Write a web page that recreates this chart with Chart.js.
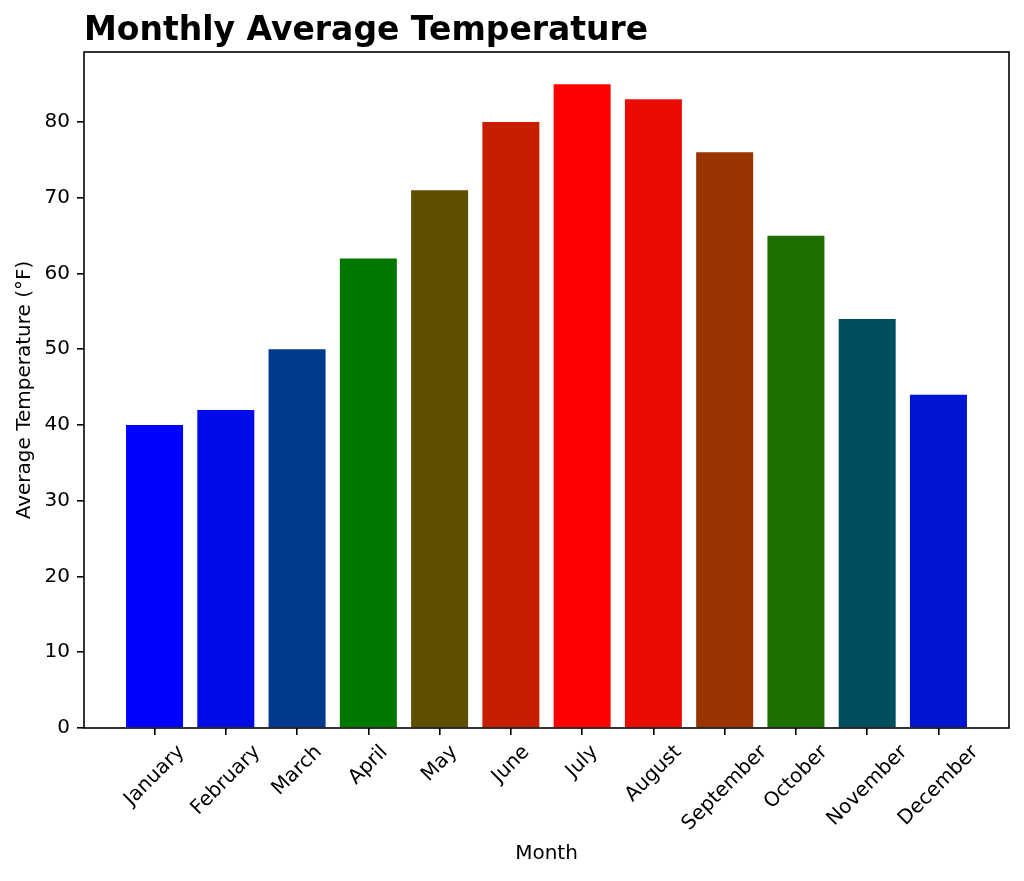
<!DOCTYPE html>
<html>
<head>
<meta charset="utf-8">
<script src="https://cdn.jsdelivr.net/npm/chart.js@4/dist/chart.umd.min.js"></script>
<style>
html,body{margin:0;padding:0;background:#fff;}
canvas{display:block;}
</style>
</head>
<body>
<canvas id="c" width="1024" height="881"></canvas>
<script>
const months = ['January','February','March','April','May','June','July','August','September','October','November','December'];
const temps = [40, 42, 50, 62, 71, 80, 85, 83, 76, 65, 54, 44];
const barColors = ['#0000FF','#000BE8','#003A8F','#007800','#5E4F00','#C81E00','#FF0000','#EA0C00','#993300','#1E6F00','#004F5F','#0015D0'];
const yTicks = [0, 10, 20, 30, 40, 50, 60, 70, 80];
const titleText = 'Monthly Average Temperature';
const xTitleText = 'Month';
const yTitleText = 'Average Temperature (°F)';

// matplotlib-like margins
const BAR_W = 0.8;
const xSpan = (months.length - 1) + BAR_W;
const X_MIN = -BAR_W / 2 - 0.05 * xSpan;
const X_MAX = months.length - 1 + BAR_W / 2 + 0.05 * xSpan;
const Y_MAX = Math.max(...temps) * 1.05;

Chart.defaults.font.family = "'DejaVu Sans', sans-serif";
Chart.defaults.color = '#000';

const framePlugin = {
  id: 'frame',
  afterDatasetsDraw(chart) {
    const {ctx, chartArea: a} = chart;
    ctx.save();
    ctx.strokeStyle = '#000';
    ctx.lineWidth = 1.6;
    ctx.strokeRect(a.left, a.top, a.right - a.left, a.bottom - a.top);
    ctx.restore();
  }
};

const xLabelPlugin = {
  id: 'xlabels',
  afterDraw(chart) {
    const sc = chart.scales.x;
    const ctx = chart.ctx;
    const size = 20;
    ctx.save();
    ctx.font = size + "px 'DejaVu Sans'";
    ctx.fillStyle = '#000';
    sc.ticks.forEach(t => {
      const label = months[t.value];
      if (label === undefined) return;
      const w = ctx.measureText(label).width;
      const H = (w + size * 0.983) * Math.SQRT1_2;
      const cx = sc.getPixelForValue(t.value);
      const cy = chart.chartArea.bottom + 14 + H / 2;
      ctx.save();
      ctx.translate(cx, cy);
      ctx.rotate(-Math.PI / 4);
      ctx.textAlign = 'center';
      ctx.textBaseline = 'alphabetic';
      ctx.fillText(label, 0, size * 0.268);
      ctx.restore();
    });
    ctx.restore();
  }
};

new Chart(document.getElementById('c'), {
  type: 'bar',
  data: {
    datasets: [{
      data: temps.map((v, i) => ({x: i, y: v})),
      backgroundColor: barColors,
      borderWidth: 0,
      barPercentage: BAR_W,
      categoryPercentage: 1.0
    }]
  },
  options: {
    responsive: false,
    animation: false,
    devicePixelRatio: 1,
    layout: {padding: {left: 0, right: 15, top: 0, bottom: 0}},
    plugins: {
      legend: {display: false},
      tooltip: {enabled: false},
      title: {
        display: true,
        text: titleText,
        align: 'start',
        fullSize: false,
        color: '#000',
        font: {size: 33, weight: 'bold', family: "'DejaVu Sans'"},
        padding: {top: 11.8, bottom: 0.6}
      }
    },
    scales: {
      x: {
        type: 'linear',
        offset: false,
        min: X_MIN,
        max: X_MAX,
        afterBuildTicks(scale) {
          scale.ticks = months.map((m, i) => ({value: i}));
        },
        afterFit(scale) { scale.height = 153; },
        grid: {display: true, offset: false, drawOnChartArea: false, drawTicks: true, tickLength: 7, color: '#000', lineWidth: 1.6},
        border: {display: false},
        ticks: {display: false},
        title: {display: true, text: xTitleText, font: {size: 20}, color: '#000', padding: {top: 0, bottom: 15}}
      },
      y: {
        type: 'linear',
        min: 0,
        max: Y_MAX,
        bounds: 'data',
        afterBuildTicks(scale) {
          scale.ticks = yTicks.map(v => ({value: v}));
        },
        afterFit(scale) { scale.width = 84; },
        grid: {display: true, drawOnChartArea: false, drawTicks: true, tickLength: 7, color: '#000', lineWidth: 1.6},
        border: {display: false},
        ticks: {font: {size: 20}, color: '#000', padding: 7},
        title: {display: true, text: yTitleText, font: {size: 20}, color: '#000', padding: {top: 13, bottom: 0}}
      }
    }
  },
  plugins: [framePlugin, xLabelPlugin]
});
</script>
</body>
</html>
